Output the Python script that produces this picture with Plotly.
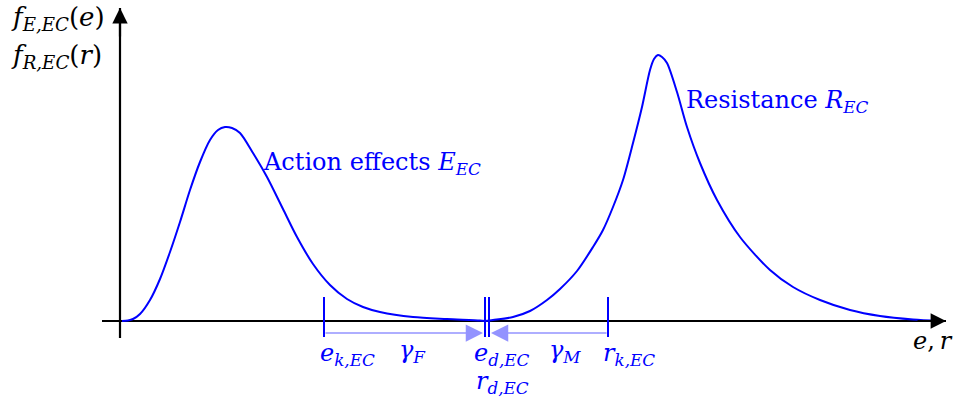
import plotly.graph_objects as go

# Action effects E_EC: density (x in e-units, y in density units)
effects_x = [0.02, 0.08, 0.13, 0.20, 0.30, 0.40, 0.50, 0.60, 0.70, 0.80, 0.90, 0.98,
             1.05, 1.12, 1.20, 1.33, 1.47, 1.63, 1.77, 1.93, 2.10, 2.27, 2.43, 2.60, 2.93,
             3.27, 3.60, 3.65]
effects_y = [0.00, 0.005, 0.02, 0.07, 0.21, 0.42, 0.69, 0.99, 1.31, 1.59, 1.81, 1.91,
             1.94, 1.93, 1.88, 1.68, 1.44, 1.12, 0.84, 0.57, 0.36, 0.22, 0.14, 0.09, 0.04,
             0.02, 0.005, 0.00]

# Resistance R_EC
resist_x = [3.65, 3.73, 3.93, 4.10, 4.27, 4.40, 4.57, 4.73, 4.83, 4.93, 5.03, 5.13, 5.22,
            5.30, 5.34, 5.38, 5.42, 5.47, 5.57, 5.67, 5.80, 5.97, 6.20, 6.50, 6.73, 7.00,
            7.30, 7.60, 7.93, 8.20]
resist_y = [0.00, 0.01, 0.04, 0.10, 0.21, 0.32, 0.50, 0.74, 0.91, 1.14, 1.41, 1.78, 2.14,
            2.51, 2.62, 2.66, 2.64, 2.58, 2.29, 1.94, 1.58, 1.21, 0.84, 0.51, 0.34, 0.21,
            0.11, 0.05, 0.015, 0.00]

# characteristic and design values on the e,r axis
e_k = 2.04
e_d = 3.65
r_d = 3.69
r_k = 4.88

# axis extents
x_axis = [-0.18, 8.26]
y_axis = [-0.17, 3.13]

BLUE = "#0000ff"
LIGHT = "rgba(0,0,255,0.42)"
SERIF = "DejaVu Serif"
FS = 24

fig = go.Figure()

# axes (drawn first so the curves sit on top of the baseline)
fig.add_trace(go.Scatter(x=x_axis, y=[0, 0], mode="lines",
                         line=dict(color="black", width=2.2), hoverinfo="skip"))
fig.add_trace(go.Scatter(x=[0, 0], y=y_axis, mode="lines",
                         line=dict(color="black", width=2.2), hoverinfo="skip"))

fig.add_trace(go.Scatter(x=effects_x, y=effects_y, mode="lines", line_shape="spline",
                         line=dict(color=BLUE, width=2, smoothing=0.8), hoverinfo="skip"))
fig.add_trace(go.Scatter(x=resist_x, y=resist_y, mode="lines", line_shape="spline",
                         line=dict(color=BLUE, width=2, smoothing=0.8), hoverinfo="skip"))

# tick marks for the characteristic / design values
for v in (e_k, e_d, r_d, r_k):
    fig.add_trace(go.Scatter(x=[v, v], y=[0.24, -0.16], mode="lines",
                             line=dict(color=BLUE, width=2), hoverinfo="skip"))

annotations = []

# arrow heads on the axes
annotations.append(dict(x=x_axis[1], y=0, ax=x_axis[1] - 0.3, ay=0, xref="x", yref="y",
                        axref="x", ayref="y", text="", showarrow=True, arrowhead=2,
                        arrowsize=1.4, arrowwidth=2.2, arrowcolor="black"))
annotations.append(dict(x=0, y=y_axis[1], ax=0, ay=y_axis[1] - 0.3, xref="x", yref="y",
                        axref="x", ayref="y", text="", showarrow=True, arrowhead=2,
                        arrowsize=1.4, arrowwidth=2.2, arrowcolor="black"))

# partial safety factor spans
dim_y = -0.12
annotations.append(dict(x=e_d - 0.02, y=dim_y, ax=e_k, ay=dim_y, xref="x", yref="y",
                        axref="x", ayref="y", text="", showarrow=True, arrowhead=2,
                        arrowsize=2.3, arrowwidth=1.5, arrowcolor=LIGHT))
annotations.append(dict(x=r_d + 0.02, y=dim_y, ax=r_k, ay=dim_y, xref="x", yref="y",
                        axref="x", ayref="y", text="", showarrow=True, arrowhead=2,
                        arrowsize=2.3, arrowwidth=1.5, arrowcolor=LIGHT))


def label(x, y, text, color, xanchor="left", size=FS):
    annotations.append(dict(x=x, y=y, xref="x", yref="y", text=text, showarrow=False,
                            xanchor=xanchor, yanchor="middle",
                            font=dict(family=SERIF, size=size, color=color)))


label(-1.11, 3.03, "<i>f</i><sub><i>E,EC</i></sub>(<i>e</i>)", "black", size=26)
label(-1.11, 2.65, "<i>f</i><sub><i>R,EC</i></sub>(<i>r</i>)", "black", size=26)
label(8.35, -0.20, "<i>e</i>,\u2009<i>r</i>", "black", "right")
label(5.64, 2.20, "Resistance <i>R</i><sub><i>EC</i></sub>", BLUE)
label(1.41, 1.58, "Action effects <i>E</i><sub><i>EC</i></sub>", BLUE)

label(2.27, -0.33, "<i>e</i><sub><i>k,EC</i></sub>", BLUE, "center")
label(2.92, -0.30, "<i>γ</i><sub><i>F</i></sub>", BLUE, "center")
label(3.82, -0.33, "<i>e</i><sub><i>d,EC</i></sub>", BLUE, "center")
label(3.82, -0.61, "<i>r</i><sub><i>d,EC</i></sub>", BLUE, "center")
label(4.45, -0.30, "<i>γ</i><sub><i>M</i></sub>", BLUE, "center")
label(5.09, -0.33, "<i>r</i><sub><i>k,EC</i></sub>", BLUE, "center")

fig.update_layout(
    width=956, height=400,
    margin=dict(l=0, r=0, t=0, b=0),
    paper_bgcolor="white", plot_bgcolor="white",
    showlegend=False,
    xaxis=dict(range=[-1.2, 8.36], visible=False, fixedrange=True),
    yaxis=dict(range=[-0.79, 3.21], visible=False, fixedrange=True),
    annotations=annotations,
)

fig.write_html("out.html")
